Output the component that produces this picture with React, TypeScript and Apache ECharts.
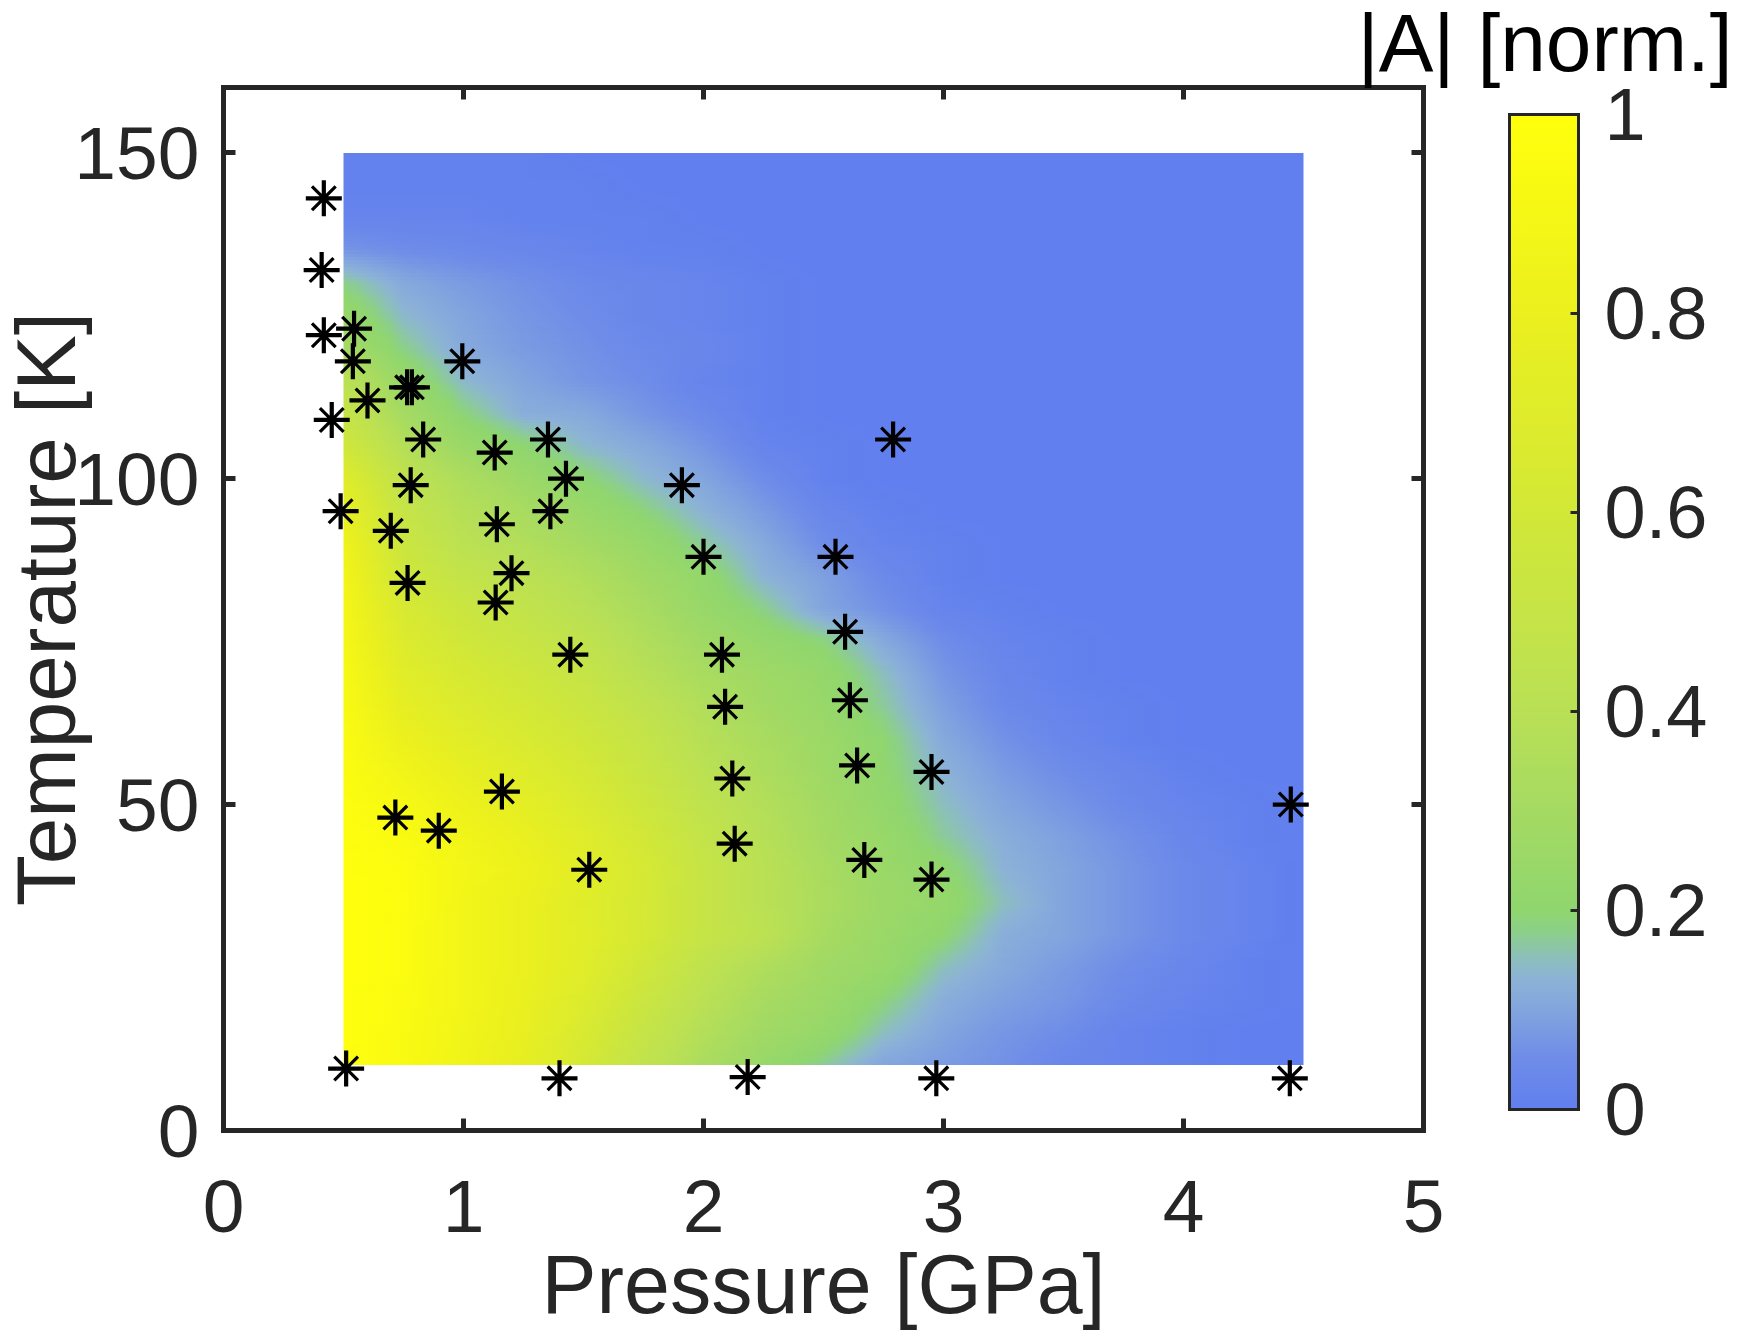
import React, { useEffect, useRef } from "react";
import * as echarts from "echarts";

const xLabelName = "Pressure [GPa]";
const yLabelName = "Temperature [K]";
const barTitle = "|A| [norm.]";

const pressures = [0.5, 0.75, 1, 1.25, 1.5, 1.75, 2, 2.25, 2.5, 2.75, 3, 3.25, 3.5, 3.75, 4, 4.25, 4.5];
const temperatures = [150, 145, 140, 135, 130, 125, 120, 115, 110, 105, 100, 95, 90, 85, 80, 75, 70, 65, 60, 55, 50, 45, 40, 35, 30, 25, 20, 15, 10];

// |A| in percent, one row per temperature, one column per pressure
const amplitude = [
  [1, 1, 1, 1, 0, 0, 0, 0, 0, 0, 0, 0, 0, 0, 0, 0, 0],
  [1, 1, 1, 1, 1, 0, 0, 0, 0, 0, 0, 0, 0, 0, 0, 0, 0],
  [2, 2, 2, 1, 1, 1, 0, 0, 0, 0, 0, 0, 0, 0, 0, 0, 0],
  [7, 5, 4, 3, 2, 1, 1, 0, 0, 0, 0, 0, 0, 0, 0, 0, 0],
  [18, 11, 8, 6, 4, 3, 2, 1, 0, 0, 0, 0, 0, 0, 0, 0, 0],
  [24, 14, 10, 7, 5, 3, 2, 1, 0, 0, 0, 0, 0, 0, 0, 0, 0],
  [30, 18, 11, 8, 6, 4, 3, 1, 0, 0, 0, 0, 0, 0, 0, 0, 0],
  [42, 24, 14, 10, 7, 5, 2, 1, 0, 0, 0, 0, 0, 0, 0, 0, 0],
  [50, 30, 19, 12, 11, 7, 4, 1, 0, 0, 0, 0, 0, 0, 0, 0, 0],
  [58, 38, 25, 20, 14, 11, 7, 2, 1, 0, 0, 0, 0, 0, 0, 0, 0],
  [70, 45, 34, 26, 20, 14, 10, 5, 1, 0, 0, 0, 0, 0, 0, 0, 0],
  [78, 50, 38, 32, 25, 19, 13, 8, 3, 1, 0, 0, 0, 0, 0, 0, 0],
  [84, 54, 42, 36, 30, 24, 17, 11, 5, 2, 1, 0, 0, 0, 0, 0, 0],
  [87, 58, 48, 42, 36, 28, 22, 13, 9, 4, 1, 0, 0, 0, 0, 0, 0],
  [89, 64, 54, 47, 40, 32, 24, 18, 10, 6, 2, 1, 0, 0, 0, 0, 0],
  [90, 68, 58, 52, 45, 36, 28, 23, 19, 11, 5, 2, 1, 0, 0, 0, 0],
  [92, 72, 63, 57, 50, 40, 32, 27, 23, 15, 7, 3, 1, 0, 0, 0, 0],
  [93, 76, 67, 61, 54, 45, 36, 29, 24, 17, 9, 4, 2, 1, 0, 0, 0],
  [95, 81, 72, 65, 58, 49, 39, 32, 26, 20, 11, 6, 3, 1, 0, 0, 0],
  [96, 86, 77, 70, 62, 52, 42, 34, 27, 21, 13, 8, 5, 3, 1, 0, 0],
  [97, 91, 82, 75, 66, 56, 45, 37, 29, 22, 15, 10, 7, 4, 2, 1, 0],
  [98, 94, 86, 79, 70, 60, 48, 39, 30, 24, 17, 12, 9, 6, 3, 1, 0],
  [99, 96, 88, 82, 73, 63, 50, 41, 32, 25, 21, 13, 10, 7, 4, 2, 0],
  [100, 97, 87, 80, 71, 62, 50, 41, 33, 26, 23, 15, 10, 7, 4, 2, 0],
  [100, 96, 87, 80, 72, 62, 50, 43, 31, 25, 20, 12, 10, 7, 4, 2, 0],
  [100, 96, 87, 80, 71, 58, 45, 35, 28, 24, 15, 11, 8, 5, 3, 1, 0],
  [99, 95, 87, 79, 68, 54, 41, 31, 26, 19, 12, 9, 7, 4, 2, 1, 0],
  [99, 94, 86, 78, 65, 50, 37, 28, 23, 15, 10, 7, 5, 2, 1, 0, 0],
  [98, 93, 85, 76, 62, 46, 33, 24, 17, 10, 8, 6, 3, 2, 1, 0, 0],
];

const markerPressures = [0.418, 0.409, 0.418, 0.544, 0.539, 0.6, 0.765, 0.785, 0.995, 0.451, 0.832, 1.13, 1.352, 1.427, 0.78, 0.488, 0.697, 1.139, 1.362, 0.767, 1.2, 1.134, 1.91, 2.0, 2.55, 2.79, 2.59, 1.445, 2.077, 2.09, 2.61, 2.64, 2.12, 2.95, 1.16, 4.447, 0.716, 0.897, 2.13, 2.67, 1.524, 2.95, 0.511, 1.4, 2.184, 2.97, 4.443];
const markerTemperatures = [143, 132, 122, 123, 118, 112, 114, 114, 118, 109, 106, 104, 106, 100, 99, 95, 92, 93, 95, 84, 85.5, 81, 99, 88, 88, 106, 76.5, 73, 73, 65, 66, 56, 54, 55, 52, 50, 48, 46, 44, 41.5, 40, 38.5, 9.5, 8, 8.2, 8, 8];

const colormapStops = [0, 0.05, 0.1, 0.13, 0.15, 0.18, 0.2, 0.3, 0.4, 0.6, 0.8, 1];
const colormapColors = [
  [97, 127, 238], [110, 140, 232], [130, 165, 222], [140, 178, 215], [140, 190, 190], [140, 208, 135],
  [143, 214, 110], [165, 218, 98], [185, 224, 85], [210, 232, 55], [235, 240, 30], [255, 255, 12],
];

const INK = "#262626";
const FONT = "'Liberation Sans', Arial, sans-serif";
const ASTERISK =
  "path://M15.9 0H20.1V36H15.9ZM0 15.9H36V20.1H0ZM7.3 5L31 28.7L28.7 31L5 7.3ZM28.7 5L31 7.3L7.3 31L5 28.7Z";

function colorOf(v: number): string {
  const x = Math.max(0, Math.min(1, v));
  let i = 0;
  while (i < colormapStops.length - 2 && x > colormapStops[i + 1]) i++;
  const f = (x - colormapStops[i]) / (colormapStops[i + 1] - colormapStops[i]);
  const a = colormapColors[i];
  const b = colormapColors[i + 1];
  return `rgb(${Math.round(a[0] + (b[0] - a[0]) * f)},${Math.round(a[1] + (b[1] - a[1]) * f)},${Math.round(a[2] + (b[2] - a[2]) * f)})`;
}

// Smooth shading between the read grid nodes (like MATLAB's "shading interp"):
// each band is one row-wide rect whose horizontal gradient runs through the nodes.
const BANDS_PER_ROW = 10;
const STOPS_PER_COLUMN = 4;

function buildBands() {
  const out: number[][] = [];
  for (let r = 0; r < temperatures.length - 1; r++) {
    const top = temperatures[r];
    const bottom = temperatures[r + 1];
    for (let k = 0; k < BANDS_PER_ROW; k++) {
      const f = (k + 0.5) / BANDS_PER_ROW;
      const hi = top + (bottom - top) * (k / BANDS_PER_ROW);
      const lo = top + (bottom - top) * ((k + 1) / BANDS_PER_ROW);
      const vals = amplitude[r].map((v, c) => (v + (amplitude[r + 1][c] - v) * f) / 100);
      out.push([lo, hi, ...vals]);
    }
  }
  return out;
}

function renderBand(_: any, api: any) {
  const lo = api.value(0);
  const hi = api.value(1);
  const n = pressures.length;
  const a = api.coord([pressures[0], hi]);
  const b = api.coord([pressures[n - 1], lo]);
  const y0 = Math.round(a[1]);
  const y1 = Math.round(b[1]);
  const colorStops: { offset: number; color: string }[] = [];
  for (let c = 0; c < n - 1; c++) {
    const v0 = api.value(2 + c);
    const v1 = api.value(3 + c);
    for (let s = 0; s < STOPS_PER_COLUMN; s++) {
      colorStops.push({
        offset: (c + s / STOPS_PER_COLUMN) / (n - 1),
        color: colorOf(v0 + ((v1 - v0) * s) / STOPS_PER_COLUMN),
      });
    }
  }
  colorStops.push({ offset: 1, color: colorOf(api.value(n + 1)) });
  return {
    type: "rect",
    shape: { x: a[0], y: y0, width: b[0] - a[0], height: y1 - y0 },
    style: { fill: { type: "linear", x: 0, y: 0, x2: 1, y2: 0, colorStops, global: false } },
  };
}

function renderColorbar(_: any, api: any) {
  const a = api.coord([0, 1]);
  const b = api.coord([1, 0]);
  return {
    type: "rect",
    shape: { x: a[0], y: a[1], width: b[0] - a[0], height: b[1] - a[1] },
    style: {
      fill: {
        type: "linear",
        x: 0,
        y: 1,
        x2: 0,
        y2: 0,
        global: false,
        colorStops: colormapStops.map((s) => ({ offset: s, color: colorOf(s) })),
      },
    },
  };
}

function frameLine(width: number) {
  return { show: true, onZero: false, lineStyle: { color: INK, width, cap: "square" } };
}

function inTicks(width: number, length: number) {
  return { show: true, inside: true, length, lineStyle: { color: INK, width } };
}

export default function App() {
  const ref = useRef<HTMLDivElement>(null);
  useEffect(() => {
    const chart = echarts.init(ref.current!, null, { renderer: "svg" });
    const hidden = { show: false };
    const mainX = { type: "value", gridIndex: 0, min: 0, max: 5, interval: 1, z: 5, splitLine: hidden };
    const mainY = { type: "value", gridIndex: 0, min: 0, max: 160, interval: 50, z: 5, splitLine: hidden };
    const barX = { type: "value", gridIndex: 1, min: 0, max: 1, z: 5, splitLine: hidden, axisTick: hidden, axisLabel: hidden };
    const barY = { type: "value", gridIndex: 1, min: 0, max: 1, interval: 0.2, z: 5, splitLine: hidden };
    chart.setOption({
      animation: false,
      backgroundColor: "#fff",
      title: {
        text: barTitle,
        left: 1545,
        top: 1,
        padding: 0,
        textAlign: "center",
        textStyle: { fontFamily: FONT, fontSize: 82, fontWeight: "normal", color: "#000" },
      },
      grid: [
        { left: 223.5, top: 87.5, width: 1200, height: 1043, show: true, borderColor: INK, borderWidth: 5, outerBoundsMode: "none" },
        { left: 1509.5, top: 114.5, width: 69, height: 995, show: true, borderColor: INK, borderWidth: 3, outerBoundsMode: "none" },
      ],
      xAxis: [
        {
          ...mainX,
          position: "bottom",
          name: xLabelName,
          nameLocation: "middle",
          nameMoveOverlap: false,
          nameGap: 112,
          nameTextStyle: { fontFamily: FONT, fontSize: 82.5, color: INK },
          axisLine: frameLine(5),
          axisTick: inTicks(5, 12),
          axisLabel: { fontFamily: FONT, fontSize: 75, color: INK, margin: 38 },
        },
        { ...mainX, position: "top", axisLine: frameLine(5), axisTick: inTicks(5, 12), axisLabel: hidden },
        { ...barX, position: "bottom", axisLine: frameLine(3) },
        { ...barX, position: "top", axisLine: frameLine(3) },
      ],
      yAxis: [
        {
          ...mainY,
          position: "left",
          name: yLabelName,
          nameLocation: "middle",
          nameMoveOverlap: false,
          nameGap: 136,
          nameTextStyle: { fontFamily: FONT, fontSize: 83.5, color: INK },
          axisLine: frameLine(5),
          axisTick: inTicks(5, 12),
          axisLabel: { fontFamily: FONT, fontSize: 75, color: INK, margin: 24, showMaxLabel: false },
        },
        { ...mainY, position: "right", axisLine: frameLine(5), axisTick: inTicks(5, 12), axisLabel: hidden },
        { ...barY, position: "left", axisLine: frameLine(3), axisTick: hidden, axisLabel: hidden },
        {
          ...barY,
          position: "right",
          axisLine: frameLine(3),
          axisTick: inTicks(3, 8),
          axisLabel: { fontFamily: FONT, fontSize: 74, color: INK, margin: 26 },
        },
      ],
      series: [
        {
          type: "custom",
          name: "|A|",
          xAxisIndex: 0,
          yAxisIndex: 0,
          silent: true,
          z: 1,
          renderItem: renderBand,
          data: buildBands(),
        },
        {
          type: "custom",
          name: "colorbar",
          xAxisIndex: 2,
          yAxisIndex: 2,
          silent: true,
          z: 1,
          renderItem: renderColorbar,
          data: [[0, 0]],
        },
        {
          type: "scatter",
          name: "measurements",
          xAxisIndex: 0,
          yAxisIndex: 0,
          silent: true,
          z: 3,
          symbol: ASTERISK,
          symbolSize: 36,
          itemStyle: { color: "#000", opacity: 1 },
          data: markerPressures.map((p, i) => [p, markerTemperatures[i]]),
        },
      ],
    });
    return () => chart.dispose();
  }, []);
  return <div ref={ref} style={{ position: "absolute", left: 0, top: 0, width: 1750, height: 1334 }} />;
}
